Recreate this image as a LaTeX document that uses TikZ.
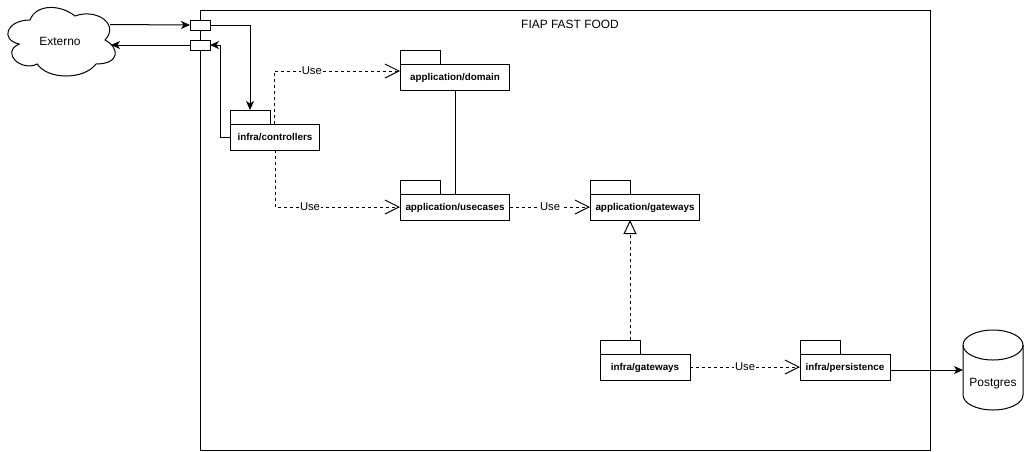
\documentclass[tikz,border=0pt]{standalone}
\usepackage{fontspec}
\setmainfont{Liberation Sans}
\usetikzlibrary{arrows.meta}
\tikzset{
  solidtip/.style={-{Stealth[length=.18cm,width=.16cm,inset=.05cm]}},
  usetip/.style={dashed,dash pattern=on .06cm off .06cm,-{Straight Barb[length=.28cm,width=.28cm]}},
  pkgbody/.style={draw,fill=white,outer sep=0pt,inner sep=0pt,minimum width=2.2cm,minimum height=.52cm,text height=5pt,text depth=1.2pt,font=\fontsize{5.6}{7}\selectfont\bfseries},
  pkgtab/.style={draw,fill=white,outer sep=0pt,inner sep=0pt,minimum width=.8cm,minimum height=.28cm},
  port/.style={draw,fill=white,outer sep=0pt,inner sep=0pt,minimum width=.4cm,minimum height=.2cm},
  uselabel/.style={fill=white,inner sep=.5pt,font=\fontsize{6.4}{7}\selectfont},
  plain/.style={font=\fontsize{6.8}{8}\selectfont,inner sep=0pt}
}
\begin{document}
\begin{tikzpicture}[x=.02cm,y=-.02cm,line width=.57pt]
  \useasboundingbox (0,0) rectangle (1024,451);
  \draw (200,10) rectangle (930,450);
  \node[plain] (title) at (570,24) {FIAP FAST FOOD};
  % cloud
  \draw (30,20) .. controls (6,20) and (0,40) .. (19.2,44) .. controls (0,52.8) and (21.6,72) .. (37.2,64)
    .. controls (48,80) and (84,80) .. (96,64) .. controls (120,64) and (120,48) .. (105,40)
    .. controls (120,24) and (96,8) .. (75,16) .. controls (60,4) and (36,4) .. (30,20);
  \node[plain] (externo) at (60,41) {Externo};
  \coordinate (externoout) at (110,24.5);
  \coordinate (externoin) at (111,45);
  % database
  \draw (993,345) ellipse[x radius=.6cm,y radius=.3cm];
  \draw (963,345) -- (963,395) arc[start angle=180,end angle=360,x radius=.6cm,y radius=.3cm] -- (1023,345);
  \node[plain] (postgres) at (993,384) {Postgres};
  \coordinate (postgresin) at (963,370);
  % ports
  \node[port] (portin) at (200,25) {};
  \node[port] (portout) at (200,45) {};
  % packages
  \node[pkgbody] (domain) at (455,77) {application/domain};
  \node[pkgbody] (usecases) at (455,207) {application/usecases};
  \node[pkgbody] (appgateways) at (645,207) {application/gateways};
  \node[pkgbody,minimum width=1.8cm] (controllers) at (275,137) {infra/controllers};
  \node[pkgbody,minimum width=1.8cm] (infragateways) at (645,367) {infra/gateways};
  \node[pkgbody,minimum width=1.8cm] (persistence) at (845,367) {infra/persistence};
  \foreach \n in {domain,usecases,appgateways,controllers,infragateways,persistence}{ \node[pkgtab,anchor=south west] (\n tab) at (\n.north west) {}; }
  \coordinate (controllersup) at (274,124);
  \coordinate (domainin) at (400,71);
  \coordinate (implfrom) at (630,340);
  \coordinate (implto) at (630,220);
  \coordinate (persistenceout) at (890,370);
  % connectors
  \draw[solidtip] (externoout) -- (portin.west);
  \draw[solidtip] (portout.west) -- (externoin);
  \draw[solidtip] (portin.east) -| (controllerstab.north);
  \draw[solidtip] (controllers.west) -- ++(-10,0) |- (portout.east);
  \draw[usetip] (controllersup) |- node[uselabel,pos=.65] (usedomain) {Use} (domainin);
  \draw[usetip] (controllers.south) |- node[uselabel,pos=.64] (useusecases) {Use} (usecases.west);
  \draw (domain.south) -- (usecases.north);
  \draw[usetip] (usecases.east) -- node[uselabel] (usegateways) {Use} (appgateways.west);
  \draw[dashed,dash pattern=on .06cm off .06cm,-{Triangle[open,length=.28cm,width=.26cm]}] (implfrom) -- (implto);
  \draw[usetip] (infragateways.east) -- node[uselabel] (usepersistence) {Use} (persistence.west);
  \draw[solidtip] (persistenceout) -- (postgresin);
\end{tikzpicture}
\end{document}
